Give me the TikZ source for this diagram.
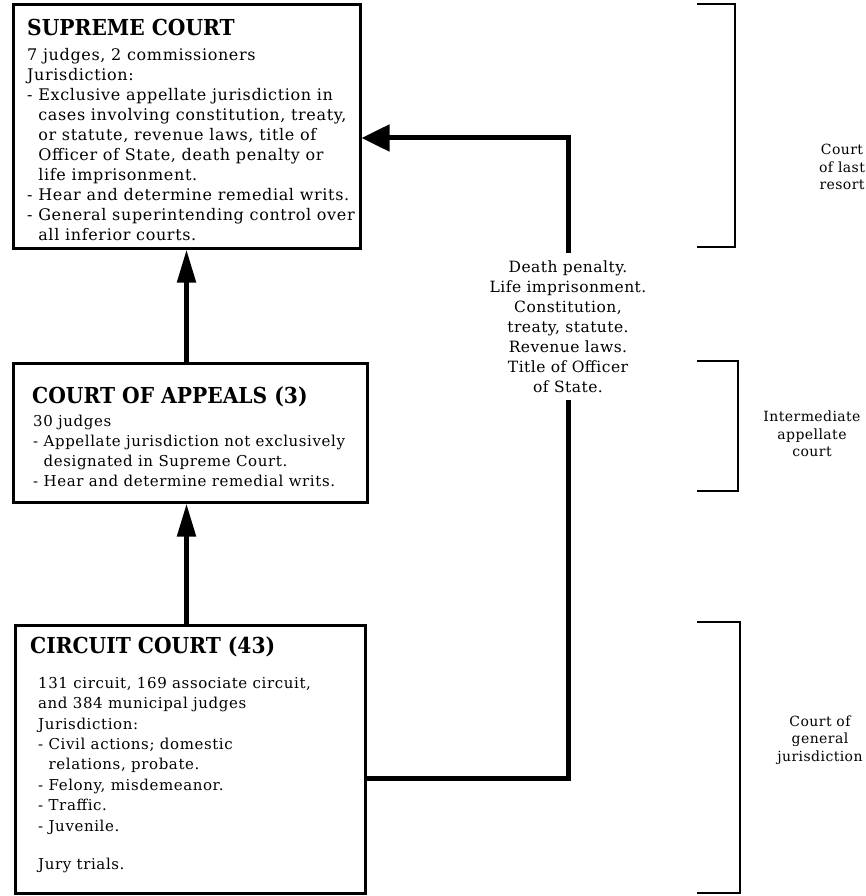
\documentclass[tikz,border=0pt]{standalone}
\usepackage{fontspec}
\setmainfont{DejaVu Serif}[LetterSpace=4]
\newfontfamily\headfont{DejaVu Serif}[FakeStretch=0.92]
\newfontfamily\levelfont{DejaVu Serif}[LetterSpace=3]
\usepackage{tikz}
\usetikzlibrary{arrows.meta}
\def\drawlink{\draw[line width=5pt]}
\def\drawbracket{\draw[line width=2pt]}
\def\ind{\hphantom{- }}
\tikzset{
  court/.style={draw=black,line width=3pt,inner sep=0pt},
  head/.style={anchor=base west,inner sep=0pt,font=\headfont\bfseries\fontsize{22}{24}\selectfont},
  body/.style={anchor=north west,inner sep=0pt,align=left,font=\fontsize{16}{20}\selectfont},
  level/.style={inner sep=0pt,align=center,font=\levelfont\fontsize{14}{17.5}\selectfont},
}

\begin{document}
\begin{tikzpicture}[x=1pt,y=-1pt]
\useasboundingbox (0,0) rectangle (866,896);
% the three courts
\node[court,minimum width=347pt,minimum height=243pt] (supreme) at (186.5,126.5) {};
\node[court,minimum width=354pt,minimum height=139pt] (appeals) at (190,432.5) {};
\node[court,minimum width=350pt,minimum height=268pt] (circuit) at (190,759) {};
\node[head] (supremehead) at (27,36) {SUPREME COURT};
\node[body] (supremebody) at (27,48) {7 judges, 2 commissioners\\
Jurisdiction:\\
- Exclusive appellate jurisdiction in\\
\ind cases involving constitution, treaty,\\
\ind or statute, revenue laws, title of\\
\ind Officer of State, death penalty or\\
\ind life imprisonment.\\
- Hear and determine remedial writs.\\
- General superintending control over\\
\ind all inferior courts.};
\node[head] (appealshead) at (32,403) {COURT OF APPEALS (3)};
\node[body,font=\fontsize{15}{20}\selectfont] (appealsbody) at (33,415) {30 judges\\
- Appellate jurisdiction not exclusively\\
\ind designated in Supreme Court.\\
- Hear and determine remedial writs.};
\node[head] (circuithead) at (30,653) {CIRCUIT COURT (43)};
\node[body,font=\fontsize{15}{20.4}\selectfont] (circuitbody) at (38,677) {131 circuit, 169 associate circuit,\\
and 384 municipal judges\\
Jurisdiction:\\
- Civil actions; domestic\\
\ind relations, probate.\\
- Felony, misdemeanor.\\
- Traffic.\\
- Juvenile.\\[18pt]
Jury trials.};
% direct route to the top
\node[level,font=\levelfont\fontsize{15.5}{20}\selectfont,minimum height=147pt] (route) at (568,326.5) {Death penalty.\\
Life imprisonment.\\
Constitution,\\
treaty, statute.\\
Revenue laws.\\
Title of Officer\\
of State.};
\drawlink[-{Triangle[length=33pt,width=18pt]}] (supreme.south |- appeals.north) -- (supreme.south);
\drawlink[-{Triangle[length=33pt,width=18pt]}] (supreme.south |- circuit.north) -- (supreme.south |- appeals.south);
\drawlink (circuit.east |- 0,778) -| (route.south);
\drawlink[-{Triangle[length=28pt,width=26pt]}] (route.north) |- (supreme.east |- 0,138);
% levels
\drawbracket (697,4) -| (735,247) -- (697,247);
\drawbracket (697,361) -| (738,491) -- (697,491);
\drawbracket (697,622) -| (740,893) -- (697,893);
\node[level] (lastresort) at (842,167) {Court\\ of last\\ resort};
\node[level] (intermediate) at (812,434) {Intermediate\\ appellate\\ court};
\node[level] (general) at (820,740) {Court of\\ general\\ jurisdiction};
\end{tikzpicture}
\end{document}
